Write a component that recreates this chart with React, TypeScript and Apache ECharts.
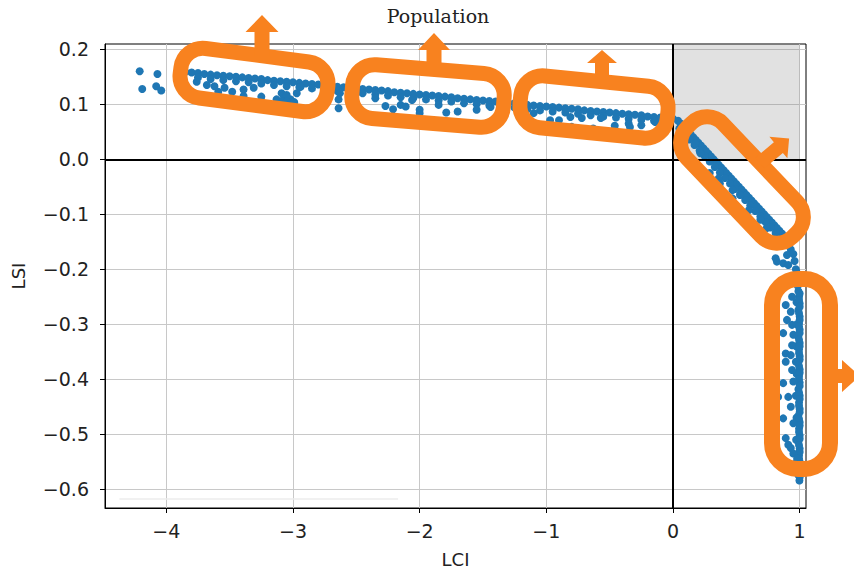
import React, { useEffect, useRef } from "react";
import * as echarts from "echarts";

// ---- Data ----
const xTicks = [-4, -3, -2, -1, 0, 1];
const yTicks = [-0.6, -0.5, -0.4, -0.3, -0.2, -0.1, 0.0, 0.1, 0.2];

// main horizontal band (upper row)
const bandUpper: [number, number][] = [
  [-3.85, 0.159], [-3.8, 0.158], [-3.75, 0.157], [-3.7, 0.155], [-3.65, 0.154], [-3.6, 0.153],
  [-3.55, 0.152], [-3.5, 0.151], [-3.45, 0.15], [-3.4, 0.149], [-3.35, 0.148], [-3.3, 0.147],
  [-3.25, 0.146], [-3.2, 0.144], [-3.15, 0.143], [-3.1, 0.142], [-3.05, 0.141], [-3.0, 0.14],
  [-2.95, 0.139], [-2.9, 0.138], [-2.85, 0.137], [-2.8, 0.136], [-2.75, 0.135], [-2.7, 0.133],
  [-2.65, 0.132], [-2.6, 0.131], [-2.55, 0.13], [-2.5, 0.129], [-2.45, 0.128], [-2.4, 0.127],
  [-2.35, 0.126], [-2.3, 0.125], [-2.25, 0.124], [-2.2, 0.122], [-2.15, 0.121], [-2.1, 0.12],
  [-2.05, 0.119], [-2.0, 0.118], [-1.95, 0.117], [-1.9, 0.116], [-1.85, 0.115], [-1.8, 0.114],
  [-1.75, 0.113], [-1.7, 0.111], [-1.65, 0.11], [-1.6, 0.109], [-1.55, 0.108], [-1.5, 0.107],
  [-1.45, 0.106], [-1.4, 0.105], [-1.35, 0.104], [-1.3, 0.103], [-1.25, 0.102], [-1.2, 0.1],
  [-1.15, 0.099], [-1.1, 0.098], [-1.05, 0.097], [-1.0, 0.096], [-0.95, 0.095], [-0.9, 0.094],
  [-0.85, 0.093], [-0.8, 0.092], [-0.75, 0.091], [-0.7, 0.089], [-0.65, 0.088], [-0.6, 0.087],
  [-0.55, 0.086], [-0.5, 0.085], [-0.45, 0.084], [-0.4, 0.083], [-0.35, 0.082], [-0.3, 0.081],
  [-0.25, 0.08], [-0.2, 0.078], [-0.15, 0.077], [-0.1, 0.076], [-0.05, 0.075], [0.0, 0.074],
];
// main horizontal band (lower row)
const bandLower: [number, number][] = [
  [-3.75, 0.149], [-3.65, 0.146], [-3.55, 0.144], [-3.45, 0.142], [-3.35, 0.14], [-3.25, 0.138],
  [-3.15, 0.135], [-3.05, 0.133], [-2.95, 0.131], [-2.85, 0.129], [-2.75, 0.127], [-2.65, 0.124],
  [-2.55, 0.122], [-2.45, 0.12], [-2.35, 0.118], [-2.25, 0.116], [-2.15, 0.113], [-2.05, 0.111],
  [-1.95, 0.109], [-1.85, 0.107], [-1.75, 0.105], [-1.65, 0.102], [-1.55, 0.1], [-1.45, 0.098],
  [-1.35, 0.096], [-1.25, 0.094], [-1.15, 0.091], [-1.05, 0.089], [-0.95, 0.087], [-0.85, 0.085],
  [-0.75, 0.083], [-0.65, 0.08], [-0.55, 0.078], [-0.45, 0.076], [-0.35, 0.074], [-0.25, 0.072],
  [-0.15, 0.07], [-0.05, 0.069],
];
// scattered points below the horizontal band
const belowHorizontal: [number, number][] = [
  [-4.21, 0.16], [-4.19, 0.128], [-4.07, 0.155], [-4.08, 0.133], [-4.04, 0.125],
  [-3.76, 0.141], [-3.68, 0.135], [-3.62, 0.133], [-3.59, 0.123], [-3.54, 0.13], [-3.48, 0.123],
  [-3.39, 0.127], [-3.39, 0.115], [-3.31, 0.13], [-3.25, 0.114], [-3.13, 0.109], [-3.08, 0.108],
  [-3.02, 0.109], [-3.09, 0.12], [-3.05, 0.117], [-2.97, 0.12], [-2.94, 0.132], [-3.05, 0.105],
  [-2.99, 0.104], [-2.63, 0.12], [-2.64, 0.109], [-2.64, 0.093], [-2.5, 0.12],
  [-2.35, 0.111], [-2.27, 0.097], [-2.21, 0.091], [-2.15, 0.099], [-2.11, 0.096], [-2.06, 0.108],
  [-2.0, 0.09], [-2.0, 0.084], [-1.85, 0.099], [-1.79, 0.085], [-1.7, 0.087], [-1.55, 0.09],
  [-1.44, 0.095], [-1.1, 0.084], [-0.97, 0.071], [-0.9, 0.071], [-0.81, 0.077], [-0.8, 0.059],
  [-0.72, 0.075], [-0.63, 0.056], [-0.57, 0.075], [-0.46, 0.061], [-0.35, 0.065], [-0.34, 0.059],
  [-0.25, 0.062], [-0.14, 0.068],
];
// diagonal band
const diagonalUpper: [number, number][] = [
  [0.04, 0.07], [0.08, 0.06], [0.12, 0.05], [0.16, 0.04], [0.2, 0.03], [0.24, 0.02],
  [0.28, 0.01], [0.32, 0.0], [0.36, -0.01], [0.4, -0.02], [0.44, -0.03], [0.48, -0.04],
  [0.52, -0.05], [0.56, -0.06], [0.6, -0.07], [0.64, -0.08], [0.68, -0.09], [0.72, -0.1],
  [0.76, -0.11], [0.8, -0.12], [0.84, -0.13], [0.88, -0.14], [0.92, -0.15],
];
const diagonalMid: [number, number][] = [
  [0.06, 0.065], [0.1, 0.055], [0.14, 0.045], [0.18, 0.035], [0.22, 0.025], [0.26, 0.015],
  [0.3, 0.005], [0.34, -0.005], [0.38, -0.015], [0.42, -0.025], [0.46, -0.035], [0.5, -0.045],
  [0.54, -0.055], [0.58, -0.065], [0.62, -0.075], [0.66, -0.085], [0.7, -0.095], [0.74, -0.105],
  [0.78, -0.115], [0.82, -0.125], [0.86, -0.135], [0.9, -0.145],
];
const diagonalLower: [number, number][] = [
  [0.05, 0.056], [0.09, 0.046], [0.13, 0.036], [0.17, 0.026], [0.21, 0.016], [0.25, 0.006],
  [0.29, -0.004], [0.33, -0.014], [0.37, -0.024], [0.41, -0.034], [0.45, -0.044], [0.49, -0.054],
  [0.53, -0.064], [0.57, -0.074], [0.61, -0.084], [0.65, -0.094], [0.69, -0.104], [0.73, -0.114],
  [0.77, -0.124], [0.81, -0.134], [0.85, -0.144], [0.89, -0.154], [0.93, -0.164],
];
const belowDiagonal: [number, number][] = [
  [0.176, 0.029], [0.216, 0.011], [0.29, -0.025], [0.36, -0.035], [0.37, -0.044], [0.47, -0.056],
  [0.47, -0.071], [0.53, -0.065], [0.6, -0.092], [0.69, -0.11], [0.74, -0.125], [0.81, -0.18],
  [0.82, -0.186], [0.9, -0.174], [0.87, -0.189], [0.91, -0.192],
];
// bend and vertical band
const verticalBand: [number, number][] = [
  [0.95, -0.172], [0.96, -0.185], [0.97, -0.2], [0.975, -0.205], [0.98, -0.215], [0.99, -0.225],
  [0.985, -0.23], [0.99, -0.24], [0.995, -0.25], [1.0, -0.262], [0.99, -0.274], [1.0, -0.286],
  [0.995, -0.298], [1.0, -0.31], [0.99, -0.322], [1.0, -0.334], [0.995, -0.346], [1.0, -0.358],
  [0.99, -0.37], [1.0, -0.382], [0.995, -0.394], [1.0, -0.406], [0.99, -0.418], [1.0, -0.43],
  [0.995, -0.442], [1.0, -0.454], [0.99, -0.466], [1.0, -0.478], [0.995, -0.49], [1.0, -0.502],
  [0.99, -0.514], [1.0, -0.526], [0.995, -0.538], [1.0, -0.55], [0.99, -0.562], [1.0, -0.574],
  [0.998, -0.584], [0.975, -0.26], [0.978, -0.3], [0.972, -0.34], [0.976, -0.39], [0.97, -0.43],
  [0.975, -0.47], [0.972, -0.51], [0.978, -0.55],
];
const verticalBand2: [number, number][] = [
  [1.0, -0.244], [0.995, -0.256], [1.0, -0.268], [0.995, -0.28], [1.0, -0.292], [0.995, -0.304],
  [1.0, -0.316], [0.995, -0.328], [1.0, -0.34], [0.995, -0.352], [1.0, -0.364], [0.995, -0.376],
  [1.0, -0.388], [0.995, -0.4], [1.0, -0.412], [0.995, -0.424], [1.0, -0.436], [0.995, -0.448],
  [1.0, -0.46], [0.995, -0.472], [1.0, -0.484], [0.995, -0.496], [1.0, -0.508], [0.995, -0.52],
  [1.0, -0.532], [0.995, -0.544], [1.0, -0.556], [0.995, -0.568], [1.0, -0.578],
];
const leftOfVertical: [number, number][] = [
  [0.94, -0.25], [0.89, -0.265], [0.93, -0.277], [0.9, -0.292], [0.94, -0.301], [0.87, -0.316],
  [0.95, -0.319], [0.94, -0.338], [0.89, -0.353], [0.93, -0.356], [0.89, -0.368], [0.97, -0.368],
  [0.94, -0.383], [0.87, -0.407], [0.95, -0.404], [0.83, -0.432], [0.91, -0.432], [0.93, -0.45],
  [0.87, -0.471], [0.95, -0.48], [0.89, -0.507], [0.91, -0.519], [0.93, -0.525], [0.95, -0.535],
  [0.98, -0.544], [0.99, -0.574],
];
// faint horizontal artefact near the bottom
const faintLine: [number, number][] = [[-4.37, -0.6176], [-2.17, -0.6176]];
// shaded quadrant
const shadedX = [0, 1];
const shadedY = [0, 0.2097];

const allPoints = [
  ...bandUpper, ...bandLower, ...belowHorizontal, ...diagonalUpper, ...diagonalMid, ...diagonalLower,
  ...belowDiagonal, ...verticalBand, ...verticalBand2, ...leftOfVertical,
];

const ORANGE = "#f8821f";
const minus = (s: string) => s.replace("-", "\u2212");

function arrowPoints(bx: number, by: number, angleDeg: number, shaftLen: number, shaftW: number, headLen: number, headW: number) {
  const a = (angleDeg * Math.PI) / 180;
  const dx = Math.cos(a), dy = Math.sin(a);
  const px = -dy, py = dx;
  const sx = bx + dx * shaftLen, sy = by + dy * shaftLen;
  return [
    [bx + (px * shaftW) / 2, by + (py * shaftW) / 2],
    [sx + (px * shaftW) / 2, sy + (py * shaftW) / 2],
    [sx + (px * headW) / 2, sy + (py * headW) / 2],
    [sx + dx * headLen, sy + dy * headLen],
    [sx - (px * headW) / 2, sy - (py * headW) / 2],
    [sx - (px * shaftW) / 2, sy - (py * shaftW) / 2],
    [bx - (px * shaftW) / 2, by - (py * shaftW) / 2],
  ];
}

function capsule(cx: number, cy: number, w: number, h: number, r: number, rot: number, lw: number) {
  return {
    type: "rect",
    x: cx,
    y: cy,
    rotation: rot,
    z: 100,
    silent: true,
    shape: { x: -w / 2, y: -h / 2, width: w, height: h, r },
    style: { fill: "transparent", stroke: ORANGE, lineWidth: lw },
  };
}

function arrow(pts: number[][]) {
  return { type: "polygon", z: 100, silent: true, shape: { points: pts }, style: { fill: ORANGE } };
}

export default function App() {
  const ref = useRef<HTMLDivElement>(null);
  useEffect(() => {
    document.body.style.margin = "0";
    const chart = echarts.init(ref.current!, null, { renderer: "svg" });
    const labelFont = { fontFamily: "DejaVu Sans", fontSize: 19, color: "#222" };
    chart.setOption({
      animation: false,
      backgroundColor: "#ffffff",
      title: {
        text: "Population",
        left: 433,
        top: 1,
        textAlign: "center",
        textStyle: { fontFamily: "DejaVu Serif", fontSize: 19, fontWeight: "normal", color: "#222" },
      },
      grid: { left: 105, right: 48, top: 44, bottom: 66, show: true, borderColor: "#000", borderWidth: 1, backgroundColor: "transparent" },
      xAxis: {
        type: "value",
        min: -4.484,
        max: 1.05,
        name: "LCI",
        nameLocation: "middle",
        nameGap: 42,
        nameTextStyle: { ...labelFont, fontSize: 18 },
        axisLine: { show: true, onZero: false, lineStyle: { color: "#000", width: 1 } },
        axisTick: { show: true, inside: false, length: 5, customValues: xTicks, lineStyle: { color: "#000" } },
        axisLabel: { ...labelFont, margin: 13, customValues: xTicks, formatter: (v: number) => minus(String(Math.round(v))) },
        splitLine: { show: true, lineStyle: { color: "#c8c8c8", width: 1 } },
      },
      yAxis: {
        type: "value",
        min: -0.634,
        max: 0.2097,
        name: "LSI",
        nameLocation: "middle",
        nameGap: 78,
        nameTextStyle: { ...labelFont, fontSize: 18 },
        axisLine: { show: true, onZero: false, lineStyle: { color: "#000", width: 1 } },
        axisTick: { show: true, inside: false, length: 5, customValues: yTicks, lineStyle: { color: "#000" } },
        axisLabel: { ...labelFont, margin: 16, customValues: yTicks, formatter: (v: number) => minus(v.toFixed(1)) },
        splitLine: { show: true, lineStyle: { color: "#c8c8c8", width: 1 } },
      },
      series: [
        {
          type: "line",
          data: faintLine,
          symbol: "none",
          z: 1,
          silent: true,
          lineStyle: { color: "#ececec", width: 1.5 },
          markArea: {
            silent: true,
            itemStyle: { color: "rgba(120,120,120,0.22)" },
            data: [[{ xAxis: shadedX[0], yAxis: shadedY[0] }, { xAxis: shadedX[1], yAxis: shadedY[1] }]],
          },
          markLine: {
            silent: true,
            symbol: ["none", "none"],
            label: { show: false },
            lineStyle: { color: "#000", width: 2, type: "solid" },
            data: [{ xAxis: 0 }, { yAxis: 0 }],
          },
        },
        {
          type: "scatter",
          data: allPoints,
          symbolSize: 8,
          z: 3,
          itemStyle: { color: "#1f77b4", opacity: 1 },
        },
      ],
      graphic: [
        capsule(254, 80, 148, 50, 22, -0.13, 15),
        capsule(428, 96, 152, 54, 22, -0.08, 15),
        capsule(594, 107, 148, 52, 22, -0.1, 15),
        capsule(742, 180, 152, 50, 22, -0.81, 15),
        capsule(801, 374, 58, 190, 26, 0, 16),
        arrow(arrowPoints(262, 56, -90, 24, 15, 17, 33)),
        arrow(arrowPoints(434, 70, -90, 20, 15, 17, 32)),
        arrow(arrowPoints(602, 80, -90, 17, 14, 13, 30)),
        arrow(arrowPoints(760, 163, -40, 24, 14, 14, 28)),
        arrow(arrowPoints(830, 376, 0, 12, 14, 18, 32)),
      ],
    });
    return () => chart.dispose();
  }, []);
  return <div ref={ref} style={{ width: 854, height: 574 }} />;
}
